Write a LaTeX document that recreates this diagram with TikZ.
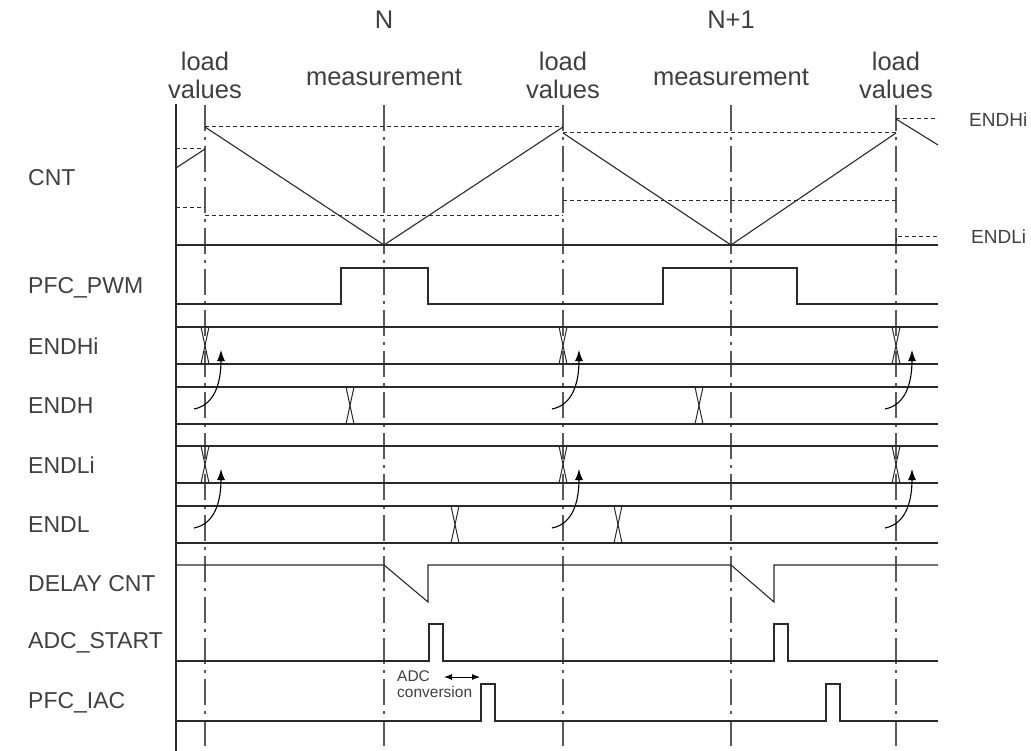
\documentclass[tikz,border=0pt]{standalone}
\usepackage{fontspec}
\setmainfont{Liberation Sans}
\usetikzlibrary{arrows.meta}
\definecolor{txt}{HTML}{404040}
\definecolor{ln}{HTML}{2A2A2A}
\definecolor{grd}{HTML}{5A5A5A}
\begin{document}
\begin{tikzpicture}[x=1pt,y=-1pt,
  sig/.style={draw=ln, line width=1.1pt},
  grd/.style={draw=grd, line width=1.3pt, dash pattern=on 26pt off 6pt on 3pt off 6pt},
  lim/.style={draw=ln, line width=1pt, dash pattern=on 4pt off 3pt},
  lbl/.style={font=\fontsize{23}{26}\selectfont, text=txt, anchor=west, inner sep=0pt},
  hdr/.style={font=\fontsize{25.5}{28}\selectfont, text=txt, align=center, inner sep=0pt},
  rlbl/.style={font=\fontsize{19}{23}\selectfont, text=txt, anchor=west, inner sep=0pt},
  small/.style={font=\fontsize{15.5}{16}\selectfont, text=txt, align=left, anchor=north west, inner sep=0pt},
  upd/.style={draw=black, line width=1.1pt, -{Latex[length=11pt,width=8pt]}},
  xing/.style={draw=ln, line width=1pt}]
\useasboundingbox (0,0) rectangle (1031,751);

% header texts
\node[hdr] (tN) at (384,20) {N};
\node[hdr] (tN1) at (731,20) {N+1};
\node[hdr] (lv1) at (205,75) {load\\values};
\node[hdr] (ms1) at (384,77) {measurement};
\node[hdr] (lv2) at (563,75) {load\\values};
\node[hdr] (ms2) at (731,77) {measurement};
\node[hdr] (lv3) at (896,75) {load\\values};

% row labels
\node[lbl] (lCNT) at (28,178) {CNT};
\node[lbl] (lPWM) at (28,288) {PFC\_PWM};
\node[lbl] (lEHi) at (28,346) {ENDHi};
\node[lbl] (lEH) at (28,406) {ENDH};
\node[lbl] (lELi) at (28,465) {ENDLi};
\node[lbl] (lEL) at (28,525) {ENDL};
\node[lbl] (lDC) at (28,584) {DELAY CNT};
\node[lbl] (lADC) at (28,643) {ADC\_START};
\node[lbl] (lIAC) at (28,703) {PFC\_IAC};
\node[rlbl] (rEHi) at (969,120) {ENDHi};
\node[rlbl] (rELi) at (971,237) {ENDLi};

% axis and grid lines
\draw[sig] (176,104) -- (176,751);
\foreach \gx in {205,384,563,731,896} \draw[grd] (\gx,105) -- (\gx,751);

% CNT
\draw[sig] (176,168) -- (205,149);
\draw[lim] (176,149) -- (205,149);
\draw[lim] (176,208) -- (205,208);
\draw[sig] (205,127) -- (384,245) -- (563,127);
\draw[lim] (205,127) -- (563,127);
\draw[lim] (205,216) -- (563,216);
\draw[sig] (563,133) -- (731,245) -- (896,133);
\draw[lim] (563,133) -- (896,133);
\draw[lim] (563,201) -- (896,201);
\draw[sig] (896,119) -- (938,145);
\draw[lim] (896,119) -- (938,119);
\draw[lim] (896,242) -- (896,237) -- (938,237);
\draw[sig] (176,245) -- (938,245);

% PFC_PWM
\draw[sig] (176,304) -- (341,304) -- (341,268) -- (428,268) -- (428,304) -- (663,304) -- (663,268) -- (797,268) -- (797,304) -- (938,304);

% bus rows
\foreach \yt/\yb in {327/364,387/424,446/483,506/543} {
  \draw[sig] (176,\yt) -- (938,\yt);
  \draw[sig] (176,\yb) -- (938,\yb);
}
% crossings
\foreach \cx/\yt/\yb in {205/327/364,563/327/364,896/327/364,350/387/424,699/387/424,205/446/483,563/446/483,896/446/483,455/506/543,618/506/543} {
  \draw[xing] (\cx-4,\yt) -- (\cx+4,\yb);
  \draw[xing] (\cx+4,\yt) -- (\cx-4,\yb);
}
% update arrows
\foreach \ax in {205,563,896} {
  \foreach \yt in {327,446} {
    \coordinate (s) at (\ax-11,\yt+82);
    \coordinate (e) at (\ax+16,\yt+23);
    \draw[upd] (s) .. controls (\ax+10,\yt+78) and (\ax+16,\yt+55) .. (e);
  }
}

% DELAY CNT
\draw[sig] (176,565) -- (384,565) -- (428,602) -- (428,565) -- (731,565) -- (774,602) -- (774,565) -- (938,565);
% ADC_START
\draw[sig] (176,661) -- (429,661) -- (429,624) -- (443,624) -- (443,661) -- (774,661) -- (774,624) -- (788,624) -- (788,661) -- (938,661);
% PFC_IAC
\draw[sig] (176,721) -- (481,721) -- (481,684) -- (495,684) -- (495,721) -- (826,721) -- (826,684) -- (840,684) -- (840,721) -- (938,721);

% ADC conversion
\node[small] (conv) at (397,670) {ADC\\conversion};
\coordinate (ca) at (444,677);
\coordinate (cb) at (480,677);
\draw[draw=black, line width=1pt, {Latex[length=8pt,width=6pt]}-{Latex[length=8pt,width=6pt]}] (ca) -- (cb);
\end{tikzpicture}
\end{document}
